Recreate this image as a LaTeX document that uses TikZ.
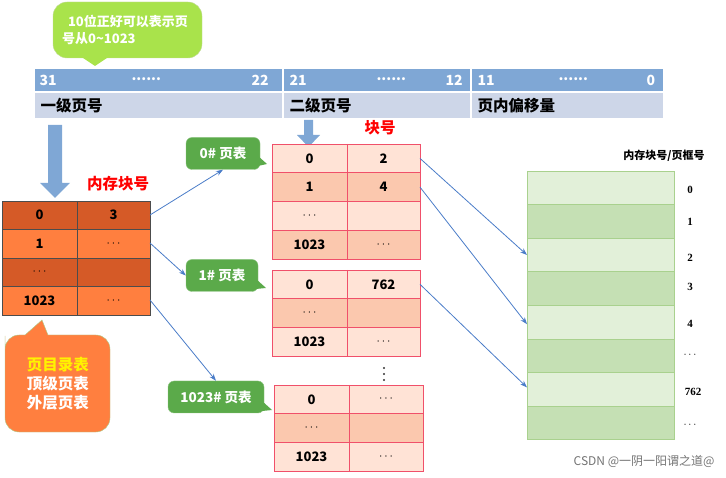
\documentclass[tikz,border=0pt]{standalone}
\usepackage{fontspec}
\setmainfont{Noto Sans CJK SC}
\newfontfamily\serifb{Liberation Serif}
\newfontfamily\cjk{Noto Sans CJK SC}
\usetikzlibrary{arrows.meta}
\definecolor{bitblue}{HTML}{7FA7D5}
\definecolor{lblblue}{HTML}{CDD6E8}
\definecolor{odark}{HTML}{D55A27}
\definecolor{olight}{HTML}{FF7F3F}
\definecolor{pA}{HTML}{FFE3D6}
\definecolor{pB}{HTML}{FBC8AE}
\definecolor{pbord}{HTML}{F0506A}
\definecolor{gA}{HTML}{E2F0D9}
\definecolor{gB}{HTML}{C5E0B4}
\definecolor{gbord}{HTML}{A9D18E}
\definecolor{tagg}{HTML}{5BAA4A}
\definecolor{bubg}{HTML}{A9E34B}
\definecolor{lineblue}{HTML}{4A7CC8}
\newcommand\fcell{\fontsize{13}{15}\selectfont\bfseries}
\newcommand\flab{\fontsize{15.5}{18}\selectfont\bfseries}
\newcommand\fnum{\fontsize{14}{16}\selectfont\bfseries}
\newcommand\ftag{\fontsize{13.5}{16}\selectfont\bfseries}
\newcommand\fframe{\fontsize{11}{13}\selectfont\bfseries}
\newcommand\dts{$\mathbf{\cdots}$}
\tikzset{
 cval/.style={font=\fcell,inner sep=0pt},
 tag/.style={fill=tagg,draw=tagg!70!white,rounded corners=6pt,text=white,font=\ftag,inner sep=5pt,minimum height=32pt},
 conn/.style={draw=lineblue,line width=0.8pt,-{Stealth[length=7pt,width=5pt]}},
 bitt/.style={text=white,font=\fnum,anchor=west},
 frl/.style={font=\serifb\fframe},
}
\begin{document}
\begin{tikzpicture}[x=1pt,y=-1pt]
\useasboundingbox (0,0) rectangle (726,478);
% top bubble
\node[draw=bubg!80!black!50,fill=bubg,rounded corners=14pt,minimum width=149pt,minimum height=56pt] (bub) at (127.5,30) {};
\fill[bubg] (80,56) -- (95,66) -- (110,56) -- cycle;
\node[text=white,font=\fcell,align=left] (bubt) at (125,30) {\ \ 10位正好可以表示页\\[2pt]号从0\textasciitilde 1023};
% bit bar
\foreach \a/\b/\n in {35/282/b1,284/470/b2,472/663/b3}{
  \fill[bitblue] (\a,69) rectangle (\b,91);
  \fill[lblblue] (\a,93) rectangle (\b,118);
}
\node[bitt] (t31) at (36,80) {31};
\node[bitt] (td1) at (128,79) {......};
\node[bitt] (t22) at (248,80) {22};
\node[bitt] (t21) at (286,80) {21};
\node[bitt] (td2) at (373,79) {......};
\node[bitt] (t12) at (442,80) {12};
\node[bitt] (t11) at (474,80) {11};
\node[bitt] (td3) at (555,79) {......};
\node[bitt] (t0) at (643,80) {0};
\node[font=\flab,anchor=west] (l1) at (37,106) {一级页号};
\node[font=\flab,anchor=west] (l2) at (286,106) {二级页号};
\node[font=\flab,anchor=west] (l3) at (474,106) {页内偏移量};
% big arrows
\fill[bitblue] (48,125) -- (62,125) -- (62,183) -- (70,183) -- (55,198) -- (40,183) -- (48,183) -- cycle;
\fill[bitblue] (304,120) -- (313,120) -- (313,135) -- (320,135) -- (308.5,147) -- (297,135) -- (304,135) -- cycle;
% outer table
\node[text=red,font=\flab] (nc) at (118,184) {内存块号};
\foreach \i/\c/\l/\r in {0/odark/0/3,1/olight/1/\dts,2/odark/\dts/,3/olight/1023/\dts}{
  \fill[\c] (2,201+28.5*\i) rectangle (150,229.5+28.5*\i);
  \node[cval] (o\i l) at (39.5,215.25+28.5*\i) {\l};
  \node[cval] (o\i r) at (113.5,215.25+28.5*\i) {\r};
}
\draw[black!70,line width=0.8pt] (2,201) rectangle (150,315);
\foreach \i in {1,2,3} \draw[black!70,line width=0.6pt] (2,201+28.5*\i) -- (150,201+28.5*\i);
\draw[black!70,line width=0.6pt] (77,201) -- (77,315);
\coordinate (o0) at (150,215);
\coordinate (o1) at (150,243);
\coordinate (o3) at (150,300);
% orange bubble
\fill[olight,draw=gbord] (5,350) [rounded corners=14pt]-- (5,432) -- (110,432) -- (110,335) [sharp corners]-- (48,335) -- (42,320) -- (25,335) [rounded corners=14pt] -- (5,335) -- cycle;
\node[align=center,font=\flab,inner sep=0pt] (dir) at (58,384) {\textcolor{yellow}{\itshape 页目录表}\\[1pt]\textcolor{white}{顶级页表}\\[1pt]\textcolor{white}{外层页表}};
% page tables
\node[text=red,font=\flab] (kh) at (380,128) {块号};
% table 0
\foreach \i/\c/\l/\r in {0/pA/0/2,1/pB/1/4,2/pA/\dts/,3/pB/1023/\dts}{
  \fill[\c] (272,144+28.75*\i) rectangle (420,172.75+28.75*\i);
  \node[cval] (p0\i l) at (309.5,158.4+28.75*\i) {\l};
  \node[cval] (p0\i r) at (383.5,158.4+28.75*\i) {\r};
  \draw[pbord,line width=0.7pt] (272,144+28.75*\i) rectangle (420,172.75+28.75*\i);
}
\draw[pbord,line width=0.7pt] (347,144) -- (347,259);
% table 1
\foreach \i/\c/\l/\r in {0/pA/0/762,1/pB/\dts/,2/pA/1023/\dts}{
  \fill[\c] (272,270+28.7*\i) rectangle (420,298.7+28.7*\i);
  \node[cval] (p1\i l) at (309.5,284.3+28.7*\i) {\l};
  \node[cval] (p1\i r) at (383.5,284.3+28.7*\i) {\r};
  \draw[pbord,line width=0.7pt] (272,270+28.7*\i) rectangle (420,298.7+28.7*\i);
}
\draw[pbord,line width=0.7pt] (347,270) -- (347,356);
\foreach \yy in {368,374,380} \fill[black!80] (384,\yy) circle (1.1pt);
% table 2
\foreach \i/\c/\l/\r in {0/pA/0/\dts,1/pB/\dts/,2/pA/1023/\dts}{
  \fill[\c] (274,385+28.7*\i) rectangle (423,413.7+28.7*\i);
  \node[cval] (p2\i l) at (311.5,399.3+28.7*\i) {\l};
  \node[cval] (p2\i r) at (386,399.3+28.7*\i) {\r};
  \draw[pbord,line width=0.7pt] (274,385+28.7*\i) rectangle (423,413.7+28.7*\i);
}
\draw[pbord,line width=0.7pt] (349,385) -- (349,471);
% tags
\node[tag,minimum width=74pt] (tg0) at (223,153.5) {0\# 页表};
\fill[tagg] (258,156) -- (267,164) -- (258,166) -- cycle;
\node[tag,minimum width=72pt] (tg1) at (222,275.5) {1\# 页表};
\fill[tagg] (256,279) -- (266,288) -- (256,289) -- cycle;
\node[tag,minimum width=96pt] (tg2) at (216,397) {1023\# 页表};
\fill[tagg] (262,401) -- (272,410) -- (262,411) -- cycle;
% frames
\node[font=\fframe] (fh) at (664,156) {内存块号/页框号};
\foreach \i/\c in {0/gA,1/gB,2/gA,3/gB,4/gA,5/gB,6/gA,7/gB}{
  \fill[\c] (527,171+33.6*\i) rectangle (674,204.6+33.6*\i);
  \draw[gbord,line width=0.7pt] (527,171+33.6*\i) rectangle (674,204.6+33.6*\i);
  \coordinate (f\i) at (527,187.8+33.6*\i);
}
\node[frl] (fl0) at (690,190) {0};
\node[frl] (fl1) at (690,222) {1};
\node[frl] (fl2) at (690,258) {2};
\node[frl] (fl3) at (690,287) {3};
\node[frl] (fl4) at (690,324) {4};
\node[frl] (fl5) at (690,355) {$\cdots$};
\node[frl] (fl6) at (693,392) {762};
\node[frl] (fl7) at (690,425) {$\cdots$};
% connectors
\draw[conn] (o0) -- (tg0.south);
\draw[conn] (o1) -- (tg1.west);
\draw[conn] (o3) -- (tg2.north);
\draw[conn] (p00r.east -| 420,0) -- (f2);
\draw[conn] (p01r.east -| 420,0) -- ([yshift=-2pt]f4);
\draw[conn] (p10r.east -| 420,0) -- ([yshift=2pt]f6);
% watermark
\node[text=black!55,font=\fontsize{12}{14}\selectfont,anchor=east] (wm) at (718,461) {CSDN @一阴一阳谓之道@};
\end{tikzpicture}
\end{document}
